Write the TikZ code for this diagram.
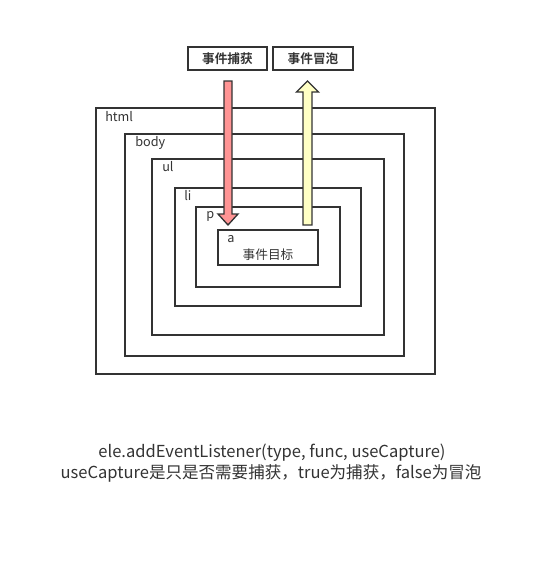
\documentclass[tikz,border=0pt]{standalone}
\usepackage{fontspec}
\setmainfont{Noto Sans CJK SC}[BoldFont={Noto Sans CJK SC Bold}]
\usetikzlibrary{fit,calc}
\definecolor{lineGray}{HTML}{333333}
\definecolor{captureRed}{HTML}{FF9494}
\definecolor{bubbleYellow}{HTML}{FFFFC4}
\tikzset{
  layer/.style={draw=lineGray,line width=1.3pt,inner sep=0pt},
  tag/.style={anchor=west,inner sep=0pt,font=\fontsize{9.5}{11}\selectfont,text=lineGray},
  topbox/.style={draw=lineGray,line width=1.3pt,inner sep=0pt,font=\fontsize{9.5}{11}\selectfont\bfseries,text=lineGray},
  flow/.style={draw=lineGray,line width=1pt,line join=miter},
  note/.style={inner sep=0pt,font=\fontsize{12.4}{14}\selectfont,text=lineGray}
}
\begin{document}
\begin{tikzpicture}[x=0.75pt,y=-0.75pt]
\useasboundingbox (0,0) rectangle (560,576);
% top labels
\node[topbox,fit={(188,47) (267,70)}] (capture) {};
\node[topbox,draw=none] at (capture.center) {事件捕获};
\node[topbox,fit={(273,47) (353,70)}] (bubble) {};
\node[topbox,draw=none] at (bubble.center) {事件冒泡};
% nested elements
\node[layer,fit={(96,108) (435,374)}] (html) {};
\node[layer,fit={(125,134) (404,356)}] (body) {};
\node[layer,fit={(152,159) (384,335)}] (ul) {};
\node[layer,fit={(175,188) (361,306)}] (li) {};
\node[layer,fit={(196,207) (340,287)}] (p) {};
\node[layer,fit={(218,230) (318,265)}] (a) {};
\node[tag] (htmlTag) at (105,117) {html};
\node[tag] (bodyTag) at (135,143) {body};
\node[tag] (ulTag) at (162,167) {ul};
\node[tag] (liTag) at (184,196) {li};
\node[tag] (pTag) at (206,216) {p};
\node[tag] (aTag) at (227,239) {a};
\node[tag,anchor=center] (target) at (268,255) {事件目标};
% capture / bubble arrows
\coordinate (capTop) at (228,81);
\coordinate (capTip) at (228,225);
\coordinate (bubTip) at (307.5,81);
\coordinate (bubBot) at (307.5,225);
\filldraw[flow,fill=captureRed] ($(capTop)+(-4,0)$) -- ($(capTip)+(-4,-11)$) -- ($(capTip)+(-10,-11)$)
  -- (capTip) -- ($(capTip)+(10,-11)$) -- ($(capTip)+(4,-11)$) -- ($(capTop)+(4,0)$) -- cycle;
\filldraw[flow,fill=bubbleYellow] ($(bubBot)+(-4.5,0)$) -- ($(bubTip)+(-4.5,11)$) -- ($(bubTip)+(-11,11)$)
  -- (bubTip) -- ($(bubTip)+(11,11)$) -- ($(bubTip)+(4.5,11)$) -- ($(bubBot)+(4.5,0)$) -- cycle;
% usage note
\node[note] (api) at (272,453) {ele.addEventListener(type, func, useCapture)};
\node[note] (usage) at (271,473) {useCapture是只是否需要捕获，true为捕获，false为冒泡};
\end{tikzpicture}
\end{document}
